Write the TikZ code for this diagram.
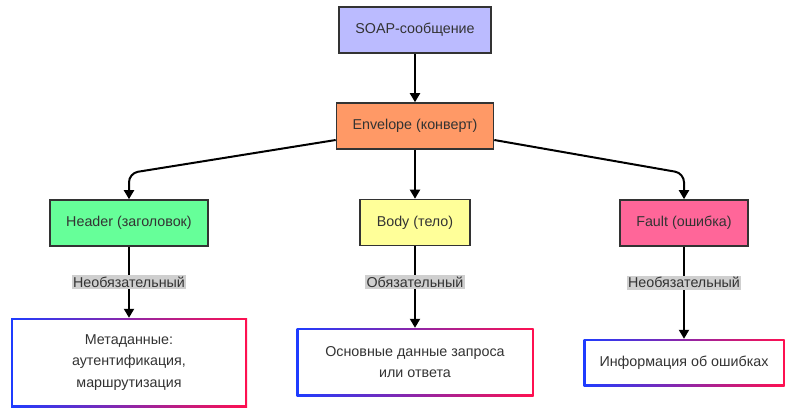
\documentclass[tikz,border=0pt]{standalone}
\usepackage{fontspec}
\setmainfont{Liberation Sans}
\usetikzlibrary{
    positioning,
    arrows.meta
}
\definecolor{boxline}{HTML}{333333}
\definecolor{soapfill}{HTML}{BBBBFF}
\definecolor{envfill}{HTML}{FF9966}
\definecolor{hdrfill}{HTML}{66FF99}
\definecolor{bodyfill}{HTML}{FFFF99}
\definecolor{fltfill}{HTML}{FF6699}
\definecolor{tagfill}{HTML}{CFCFCF}
\definecolor{gradL}{HTML}{1E3CFF}
\definecolor{gradR}{HTML}{FF1050}
\tikzset{
    >={Triangle[length=9pt,width=10pt]},
    part/.style={
        draw=boxline,
        line width=1.6pt,
        minimum height=46pt,
        text=boxline,
        font=\fontsize{14.3}{17}\selectfont
    },
    gradbox/.style={
        left color=gradL,
        right color=gradR,
        align=center,
        text=boxline,
        font=\fontsize{14.3}{21.5}\selectfont,
        path picture={
            \fill[white]
                ([shift={(2pt,-2pt)}]path picture bounding box.north west)
                rectangle
                ([shift={(-2pt,2pt)}]path picture bounding box.south east);
        }
    },
    tag/.style={
        fill=tagfill,
        inner sep=1.5pt,
        text=boxline,
        font=\fontsize{14.3}{17}\selectfont
    },
    link/.style={
        line width=2pt,
        draw=black
    }
}

\begin{document}
\begin{tikzpicture}[
    x=1pt,
    y=-1pt
]
    \useasboundingbox (0,0) rectangle (796,415);

    % Блоки
    \node[part, fill=soapfill, minimum width=152pt] (soap) at (415,30)    {SOAP-сообщение};
    \node[part, fill=envfill,  minimum width=157pt] (env)  at (415,126)   {Envelope (конверт)};

    \node[part, fill=hdrfill,  minimum width=158pt] (hdr)  at (129,223)   {Header (заголовок)};
    \node[part, fill=bodyfill, minimum width=110pt] (body) at (415,222.5) {Body (тело)};
    \node[part, fill=fltfill,  minimum width=128pt] (flt)  at (684,223)   {Fault (ошибка)};

    % Содержимое
    \node[gradbox, minimum width=236pt, minimum height=89pt] (meta) at (129,362.5)
        {Метаданные:\\аутентификация,\\маршрутизация};
    \node[gradbox, minimum width=237pt, minimum height=68pt] (data) at (415,362)
        {Основные данные запроса\\или ответа};
    \node[gradbox, minimum width=201pt, minimum height=47pt] (info) at (684,362.5)
        {Информация об ошибках};

    % Связи
    \path[->, link]
        (soap) edge (env)
        (env)  edge (body)

        % Ко вложенному содержимому
        (hdr)
            edge node[tag] (hdrtag) {Необязательный} (meta)
        (body)
            edge node[tag, pos=0.44] (bodytag) {Обязательный} (data)
        (flt)
            edge node[tag, pos=0.39] (flttag) {Необязательный} (info);

    \draw[->, link, rounded corners=9pt]
        ([yshift=-14pt]env.west) -- ([yshift=26pt]hdr.north) -- (hdr.north);
    \draw[->, link, rounded corners=9pt]
        ([yshift=-14pt]env.east) -- ([yshift=26pt]flt.north) -- (flt.north);

\end{tikzpicture}
\end{document}
